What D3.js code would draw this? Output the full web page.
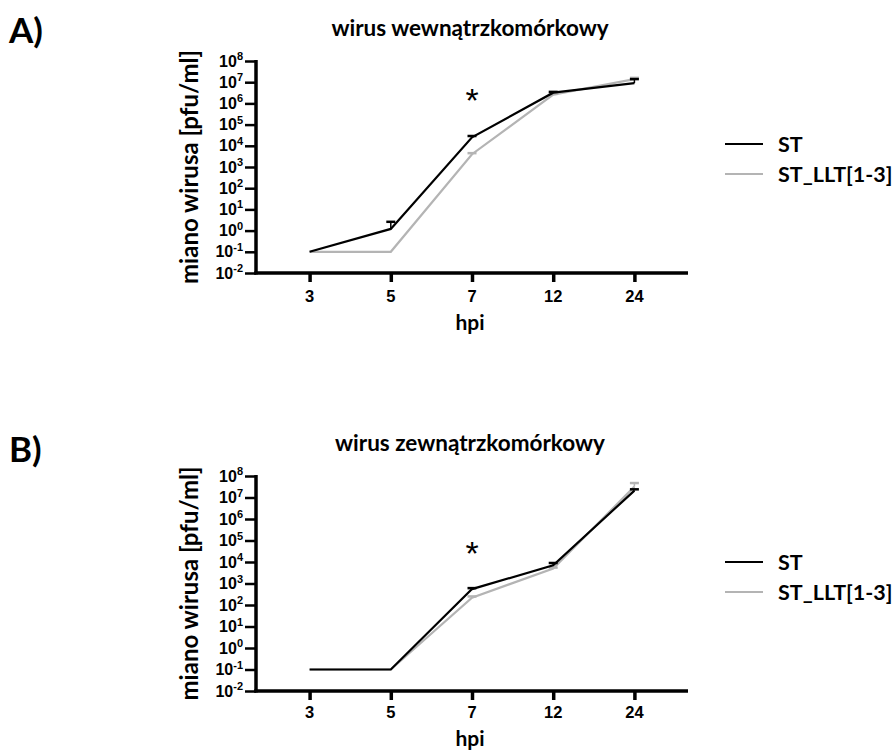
<!DOCTYPE html>
<html>
<head>
<meta charset="utf-8">
<script src="https://cdn.jsdelivr.net/npm/d3@7"></script>
<style>
  body { margin: 0; background: #fff; }
</style>
</head>
<body>
<div id="chart"></div>
<script>
const hours = ["3", "5", "7", "12", "24"];
const yTickExps = [-2, -1, 0, 1, 2, 3, 4, 5, 6, 7, 8];

// panel A: intracellular virus
const intraST = [0.1, 1.2, 2.5e4, 3.2e6, 9e6];
const intraSTerr = [0, 1.4, 0.4e4, 0.3e6, 5e6];
const intraLLT = [0.1, 0.1, 4e3, 2.6e6, 1.4e7];
const intraLLTerr = [0, 0, 0.5e3, 0.2e6, 0.2e7];

// panel B: extracellular virus
const extraST = [0.1, 0.1, 550, 7e3, 2.1e7];
const extraSTerr = [0, 0, 60, 2e3, 0.3e7];
const extraLLT = [0.1, 0.1, 220, 5e3, 3.2e7];
const extraLLTerr = [0, 0, 30, 0.5e3, 1.5e7];

const seriesNames = ["ST", "ST_LLT[1-3]"];
const seriesColors = ["#000000", "#b4b4b4"];

const calibri = "Lato, 'Open Sans', sans-serif";
const arial = "'Liberation Sans', Arial, sans-serif";

const W = 896, H = 751;
const svg = d3.select("#chart").append("svg")
  .attr("width", W).attr("height", H);

const panels = [
  { label: "A)", labelY: 43, title: "wirus wewnątrzkomórkowy", titleY: 36, top: 61, bottom: 273,
    tickY: 29, hpiY: 330, starY: 112,
    st: intraST, stErr: intraSTerr, llt: intraLLT, lltErr: intraLLTerr, legendY: 144 },
  { label: "B)", labelY: 462, title: "wirus zewnątrzkomórkowy", titleY: 451, top: 476, bottom: 691,
    tickY: 27, hpiY: 746, starY: 565,
    st: extraST, stErr: extraSTerr, llt: extraLLT, lltErr: extraLLTerr, legendY: 562 },
];

const axisLeft = 256, axisRight = 688;

panels.forEach(p => {
  const g = svg.append("g");

  const x = d3.scalePoint().domain(hours).range([axisLeft, axisRight]).padding(0.66);
  const y = d3.scaleLog().domain([0.01, 1e8]).range([p.bottom, p.top]);

  // panel letter
  g.append("text").attr("x", 9).attr("y", p.labelY)
    .attr("font-family", calibri).attr("font-weight", "bold").attr("font-size", 35)
    .text(p.label);

  // title
  g.append("text").attr("x", 470).attr("y", p.titleY)
    .attr("text-anchor", "middle")
    .attr("font-family", calibri).attr("font-weight", "bold").attr("font-size", 22.5)
    .text(p.title);

  // y axis
  const yAxis = g.append("g").attr("transform", `translate(${axisLeft},0)`)
    .call(d3.axisLeft(y).tickValues(yTickExps.map(e => Math.pow(10, e))).tickSize(11).tickFormat(""));
  yAxis.select(".domain").attr("stroke-width", 3.5).attr("d", `M0,${p.top - 1}V${p.bottom + 1.5}`);
  yAxis.selectAll(".tick line").attr("stroke-width", 2.5);

  yTickExps.forEach(e => {
    const t = g.append("text")
      .attr("x", axisLeft - 13).attr("y", y(Math.pow(10, e)) + 5.5)
      .attr("text-anchor", "end")
      .attr("font-family", arial).attr("font-weight", "bold").attr("font-size", 16);
    t.append("tspan").text("10");
    t.append("tspan").attr("dy", -6.5).attr("font-size", 11).text(e);
  });

  // x axis
  const xAxis = g.append("g").attr("transform", `translate(0,${p.bottom})`)
    .call(d3.axisBottom(x).tickSize(9).tickSizeOuter(0).tickPadding(0).tickFormat(""));
  xAxis.select(".domain").attr("stroke-width", 3.5).attr("d", `M${axisLeft - 1.75},0H${axisRight}`);
  xAxis.selectAll(".tick line").attr("stroke-width", 3.5);

  hours.forEach(h => {
    g.append("text").attr("x", x(h)).attr("y", p.bottom + p.tickY)
      .attr("text-anchor", "middle")
      .attr("font-family", arial).attr("font-weight", "bold").attr("font-size", 16.5)
      .text(h);
  });

  g.append("text").attr("x", 470).attr("y", p.hpiY)
    .attr("text-anchor", "middle")
    .attr("font-family", calibri).attr("font-weight", "bold").attr("font-size", 21)
    .text("hpi");

  g.append("text")
    .attr("transform", `translate(198,${(p.top + p.bottom) / 2}) rotate(-90)`)
    .attr("text-anchor", "middle")
    .attr("font-family", calibri).attr("font-weight", "bold").attr("font-size", 24)
    .text("miano wirusa [pfu/ml]");

  // series, gray first so black sits on top
  const series = [
    { vals: p.llt, err: p.lltErr, color: seriesColors[1] },
    { vals: p.st, err: p.stErr, color: seriesColors[0] },
  ];
  const line = d3.line().x((d, i) => x(hours[i])).y(d => y(d));

  series.forEach(s => {
    // error bars (upper only)
    s.vals.forEach((v, i) => {
      if (!s.err[i]) return;
      const cx = x(hours[i]);
      const yTop = y(v + s.err[i]);
      g.append("line").attr("x1", cx).attr("x2", cx).attr("y1", y(v)).attr("y2", yTop)
        .attr("stroke", s.color).attr("stroke-width", 1.5);
      g.append("line").attr("x1", cx - 4.5).attr("x2", cx + 4.5).attr("y1", yTop).attr("y2", yTop)
        .attr("stroke", s.color).attr("stroke-width", 2.5);
    });
    g.append("path").datum(s.vals)
      .attr("d", line)
      .attr("fill", "none")
      .attr("stroke", s.color)
      .attr("stroke-width", 2.2);
  });

  // significance mark at 7 hpi
  g.append("text").attr("x", x("7")).attr("y", p.starY)
    .attr("text-anchor", "middle")
    .attr("font-family", arial).attr("font-size", 34)
    .text("*");

  // legend
  seriesNames.forEach((name, i) => {
    const ly = p.legendY + i * 30;
    g.append("line").attr("x1", 725).attr("x2", 763).attr("y1", ly).attr("y2", ly)
      .attr("stroke", seriesColors[i]).attr("stroke-width", 2);
    g.append("text").attr("x", 778).attr("y", ly + 7.5)
      .attr("font-family", calibri).attr("font-weight", "bold").attr("font-size", 21.5)
      .text(name);
  });
});
</script>
</body>
</html>
